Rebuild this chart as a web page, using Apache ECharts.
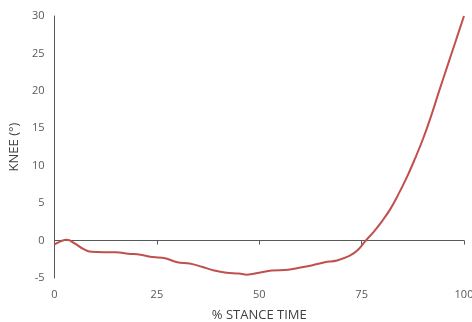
<!DOCTYPE html>
<html><head><meta charset="utf-8">
<script src="https://cdn.jsdelivr.net/npm/echarts@6/dist/echarts.min.js"></script>
<style>html,body{margin:0;padding:0;background:#fff}#c{width:472px;height:322px}</style>
</head><body><div id="c"></div>
<script>
const stance = [0, 1.5, 3, 5, 7, 9, 12, 15, 18, 21, 24, 27, 30, 33, 36, 39, 42, 45, 47, 50, 53, 57, 60, 63, 66, 69, 72, 74, 76, 78, 80, 82, 84, 86, 88, 90, 92, 94, 96, 98, 100];
const knee = [-0.5, -0.1, 0.1, -0.4, -1.1, -1.5, -1.55, -1.55, -1.75, -1.9, -2.2, -2.35, -2.9, -3.05, -3.5, -4.0, -4.3, -4.4, -4.55, -4.3, -4.0, -3.9, -3.6, -3.3, -2.9, -2.65, -2.05, -1.3, 0, 1.2, 2.6, 4.2, 6.2, 8.4, 10.9, 13.6, 16.7, 20.1, 23.4, 26.7, 30];
const xTicks = [0, 25, 50, 75, 100];
const yTicks = [-5, 0, 5, 10, 15, 20, 25, 30];

const chart = echarts.init(document.getElementById('c'), null, {renderer: 'canvas'});
const labelStyle = {color: '#595959', fontSize: 11, fontFamily: 'Open Sans'};
chart.setOption({
  animation: false,
  grid: {left: 54.5, right: 8, top: 16, bottom: 44, outerBoundsMode: 'none', containLabel: false},
  xAxis: [{
    type: 'value', min: xTicks[0], max: xTicks[xTicks.length - 1], interval: 25,
    axisLine: {show: false, onZero: false}, axisTick: {show: false}, splitLine: {show: false},
    axisLabel: Object.assign({margin: 11}, labelStyle),
    name: '% STANCE TIME', nameLocation: 'middle', nameGap: 31,
    nameTextStyle: {color: '#404040', fontSize: 13, fontFamily: 'Open Sans'}
  }, {
    type: 'value', position: 'bottom', min: xTicks[0], max: xTicks[xTicks.length - 1], interval: 25,
    axisLine: {show: true, onZero: true, lineStyle: {color: '#595959', width: 1}},
    axisTick: {show: true, inside: false, length: 4, lineStyle: {color: '#595959'}},
    axisLabel: {show: false}, splitLine: {show: false}
  }],
  yAxis: {
    type: 'value', min: yTicks[0], max: yTicks[yTicks.length - 1], interval: 5,
    axisLine: {show: true, onZero: false, lineStyle: {color: '#595959', width: 1}},
    axisTick: {show: false}, splitLine: {show: false},
    axisLabel: Object.assign({margin: 10}, labelStyle),
    name: 'KNEE (°)', nameLocation: 'middle', nameGap: 32, nameRotate: 90,
    nameTextStyle: {color: '#404040', fontSize: 13, fontFamily: 'Open Sans'}
  },
  series: [{
    type: 'line', xAxisIndex: 0, smooth: 0.4, showSymbol: false,
    lineStyle: {color: '#C0504D', width: 2},
    data: stance.map((s, i) => [s, knee[i]])
  }]
});
</script></body></html>
